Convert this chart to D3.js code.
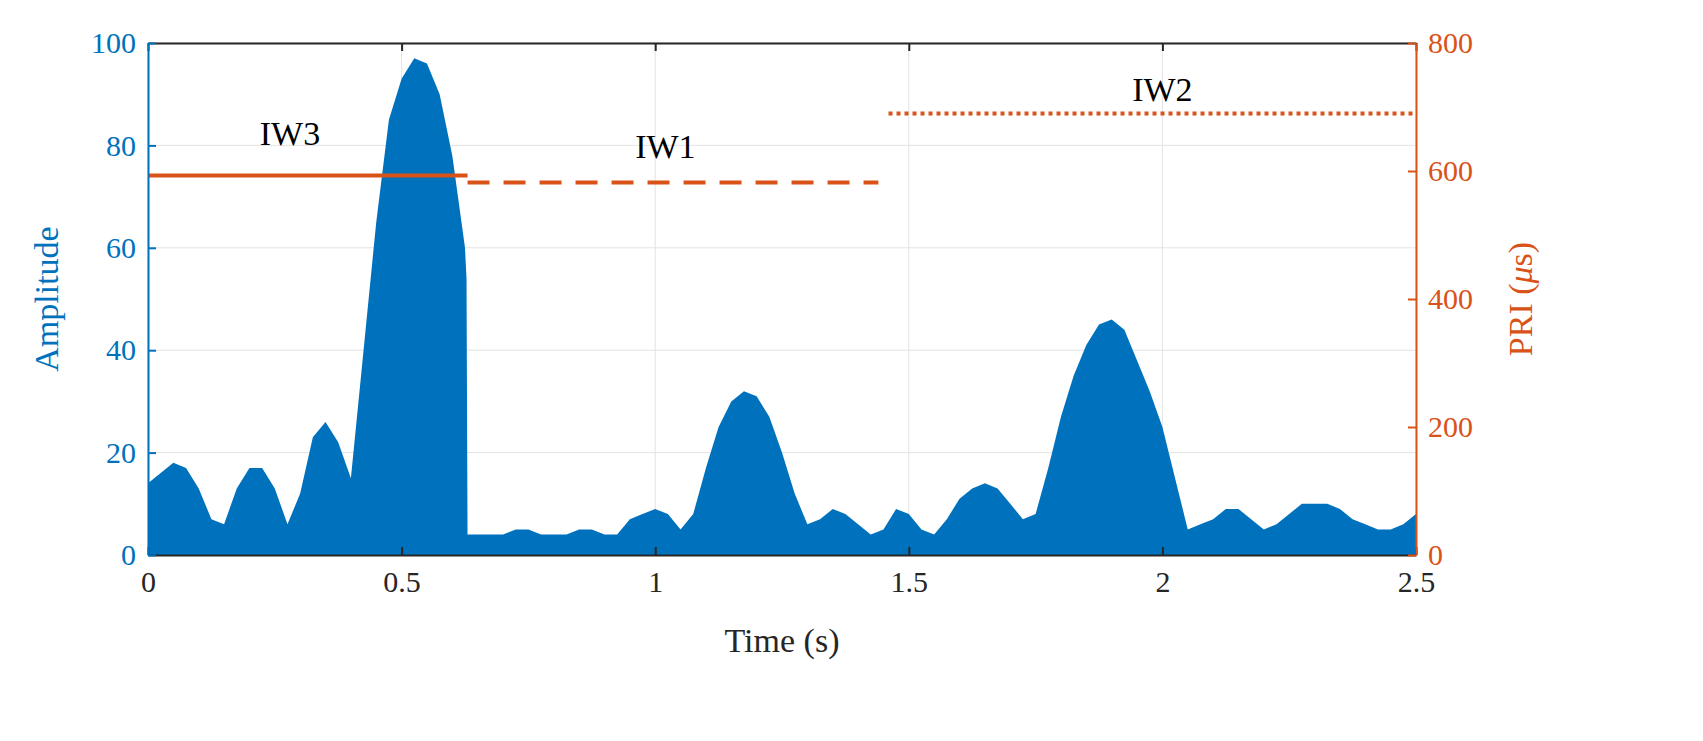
<!DOCTYPE html>
<html><head><meta charset="utf-8">
<script src="https://cdn.jsdelivr.net/npm/d3@7"></script>
<style>body{margin:0;background:#fff}</style>
</head><body><div id="chart"></div>
<script>
// amplitude envelope
const times = [0,0.025,0.05,0.075,0.1,0.125,0.15,0.175,0.2,0.225,0.25,0.275,0.3,0.325,0.35,0.375,0.4,0.425,0.45,0.475,0.5,0.525,0.55,0.575,0.6,0.625,0.628,0.63,
  0.65,0.675,0.7,0.725,0.75,0.775,0.8,0.825,0.85,0.875,0.9,0.925,0.95,0.975,1.0,1.025,1.05,1.075,1.1,1.125,1.15,1.175,1.2,1.225,1.25,1.275,1.3,1.325,1.35,1.375,1.4,1.425,1.45,1.475,1.5,1.525,1.55,1.575,1.6,1.625,1.65,1.675,1.7,1.725,1.75,1.775,1.8,1.825,1.85,1.875,1.9,1.925,1.95,1.975,2.0,2.025,2.05,2.075,2.1,2.125,2.15,2.175,2.2,2.225,2.25,2.275,2.3,2.325,2.35,2.375,2.4,2.425,2.45,2.475,2.5];
const amps = [14,16,18,17,13,7,6,13,17,17,13,6,12,23,26,22,15,40,65,85,93,97,96,90,78,60,54,4,
  4,4,4,5,5,4,4,4,5,5,4,4,7,8,9,8,5,8,17,25,30,32,31,27,20,12,6,7,9,8,6,4,5,9,8,5,4,7,11,13,14,13,10,7,8,17,27,35,41,45,46,44,38,32,25,15,5,6,7,9,9,7,5,6,8,10,10,10,9,7,6,5,5,6,8];
// PRI segments (µs)
const segments = [
  {name:"IW3", x0:0, x1:0.63, pri:593, dash:null, lx:0.28, ly:640},
  {name:"IW1", x0:0.63, x1:1.44, pri:582, dash:"22,14", lx:1.02, ly:620},
  {name:"IW2", x0:1.46, x1:2.5, pri:690, dash:"4,4", lx:2.0, ly:710}
];
const xTicks = [0,0.5,1,1.5,2,2.5];
const yTicks = [0,20,40,60,80,100];
const y2Ticks = [0,200,400,600,800];

const blue = "#0072BD", orange = "#D95319";
const W = 1703, H = 741, L = 148, R = 1416, T = 43, B = 555;
const svg = d3.select("#chart").append("svg").attr("width", W).attr("height", H)
  .style("font-family", "'Liberation Serif', serif");

const x = d3.scaleLinear().domain([0, 2.5]).range([L, R]);
const y = d3.scaleLinear().domain([0, 100]).range([B, T]);
const y2 = d3.scaleLinear().domain([0, 800]).range([B, T]);

// grid
svg.append("g").selectAll("line").data(xTicks).join("line")
  .attr("x1", d => x(d)).attr("x2", d => x(d)).attr("y1", T).attr("y2", B)
  .attr("stroke", "#e3e3e3");
svg.append("g").selectAll("line").data(yTicks).join("line")
  .attr("x1", L).attr("x2", R).attr("y1", d => y(d)).attr("y2", d => y(d))
  .attr("stroke", "#e3e3e3");

// amplitude area
const area = d3.area().x((d, i) => x(times[i])).y0(B).y1(d => y(d));
svg.append("path").attr("d", area(amps)).attr("fill", blue);

// PRI lines
svg.append("g").selectAll("line").data(segments).join("line")
  .attr("x1", d => x(d.x0)).attr("x2", d => x(d.x1))
  .attr("y1", d => y2(d.pri)).attr("y2", d => y2(d.pri))
  .attr("stroke", orange).attr("stroke-width", 4)
  .attr("stroke-dasharray", d => d.dash);
svg.append("g").selectAll("text").data(segments).join("text")
  .attr("x", d => x(d.lx)).attr("y", d => y2(d.ly))
  .attr("text-anchor", "middle").attr("font-size", 34).text(d => d.name);

// axes
const fmt = d => d3.format("")(d);
const gx = svg.append("g").attr("transform", `translate(0,${B})`)
  .call(d3.axisBottom(x).tickValues(xTicks).tickFormat(fmt).tickSizeInner(-8).tickSizeOuter(0).tickPadding(16));
const gxt = svg.append("g").attr("transform", `translate(0,${T})`)
  .call(d3.axisTop(x).tickValues(xTicks).tickFormat("").tickSizeInner(-8).tickSizeOuter(0));
const gy = svg.append("g").attr("transform", `translate(${L},0)`)
  .call(d3.axisLeft(y).tickValues(yTicks).tickSizeInner(-8).tickSizeOuter(0).tickPadding(12));
const gy2 = svg.append("g").attr("transform", `translate(${R},0)`)
  .call(d3.axisRight(y2).tickValues(y2Ticks).tickSizeInner(-8).tickSizeOuter(0).tickPadding(12));
[gx, gxt].forEach(g => g.selectAll("path,line").attr("stroke", "#262626").attr("stroke-width", 2));
gy.selectAll("path,line").attr("stroke", blue).attr("stroke-width", 2);
gy2.selectAll("path,line").attr("stroke", orange).attr("stroke-width", 2);
gx.selectAll("text").attr("font-size", 30).attr("fill", "#262626").style("font-family", "'Liberation Serif', serif");
gy.selectAll("text").attr("font-size", 30).attr("fill", blue).style("font-family", "'Liberation Serif', serif");
gy2.selectAll("text").attr("font-size", 30).attr("fill", orange).style("font-family", "'Liberation Serif', serif");

// axis titles
svg.append("text").attr("x", (L + R) / 2).attr("y", 652).attr("text-anchor", "middle")
  .attr("font-size", 34).attr("fill", "#262626").text("Time (s)");
svg.append("text").attr("transform", `translate(58,${(T + B) / 2}) rotate(-90)`)
  .attr("text-anchor", "middle").attr("font-size", 34).attr("fill", blue).text("Amplitude");
const t2 = svg.append("text").attr("transform", `translate(1532,${(T + B) / 2}) rotate(-90)`)
  .attr("text-anchor", "middle").attr("font-size", 34).attr("fill", orange);
t2.append("tspan").text("PRI (");
t2.append("tspan").attr("font-style", "italic").text("μ");
t2.append("tspan").text("s)");
</script></body></html>
